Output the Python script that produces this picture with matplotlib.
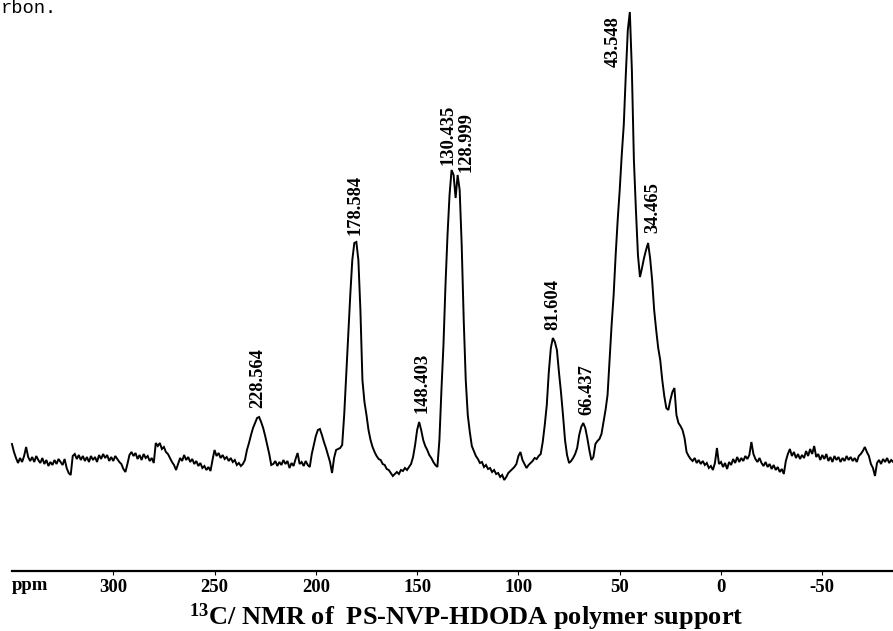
import numpy as np
import matplotlib
matplotlib.use("Agg")
import matplotlib.pyplot as plt

plt.rcParams['font.family'] = ['Liberation Serif', 'DejaVu Serif']
plt.rcParams['font.weight'] = 'bold'
plt.rcParams['mathtext.fontset'] = 'custom'
plt.rcParams['mathtext.rm'] = 'Liberation Serif:bold'
plt.rcParams['mathtext.bf'] = 'Liberation Serif:bold'
plt.rcParams['mathtext.it'] = 'Liberation Serif:bold'

# chemical shift grid (ppm), 1 ppm step, high to low
ppm = np.arange(350, -90, -1)

# intensity, 10 values per row (row = 10 ppm)
intensity_rows = [
    [16, 8, 2, -3, 2, -2, 4, 13, 3, -1],              # 350..341
    [3, -2, 4, 0, -3, 2, -4, 0, -6, -2],              # 340..331
    [-5, 0, -4, 1, -2, -5, 1, -8, -13, -15],          # 330..321
    [4, 6, 1, 5, 0, 4, -1, 3, -2, 4],                 # 320..311
    [0, 3, -2, 5, 1, 6, 2, 5, -1, 3],                 # 310..301
    [-1, 4, 1, -2, -4, -9, -12, -4, 5, 8],            # 300..291
    [4, 7, 1, 5, 0, 6, 2, 4, -1, 2],                  # 290..281
    [-3, 17, 14, 17, 11, 13, 8, 6, 2, -2],            # 280..271
    [-5, -10, -4, 2, -1, 5, 0, 3, -2, 1],             # 270..261
    [-4, -1, -6, -3, -8, -6, -10, -7, -11, 0],        # 260..251
    [10, 4, 7, 2, 5, 1, 3, -1, 2, -2],                # 250..241
    [0, -5, -3, -6, -4, 0, 10, 17, 25, 32],           # 240..231
    [37, 42, 43, 38, 32, 24, 15, 6, -5, -4],          # 230..221
    [-1, -6, -2, -5, 0, -4, -1, -8, -3, -6],          # 220..211
    [1, 7, -4, -2, -6, -1, -5, -7, 6, 15],            # 210..201
    [24, 30, 31, 25, 18, 12, 5, -2, -13, 2],          # 200..191
    [10, 11, 12, 15, 45, 85, 125, 165, 200, 217],     # 190..181
    [218, 200, 150, 80, 58, 45, 30, 20, 13, 8],       # 180..171
    [4, 1, 0, -4, -5, -9, -10, -13, -16, -14],        # 170..161
    [-12, -14, -10, -11, -8, -10, -7, -4, 3, 15],     # 160..151
    [30, 38, 30, 20, 14, 10, 5, 2, -2, -5],           # 150..141
    [-7, 20, 70, 115, 175, 225, 265, 290, 285, 262],  # 140..131
    [285, 270, 215, 140, 80, 45, 28, 14, 9, 4],       # 130..121
    [1, -3, -2, -7, -5, -9, -8, -12, -10, -14],       # 120..111
    [-13, -17, -15, -20, -17, -13, -11, -9, -7, -4],  # 110..101
    [4, 8, 0, -4, -8, -5, -3, -1, 2, 1],              # 100..91
    [4, 6, 18, 35, 55, 88, 112, 122, 118, 110],       # 90..81
    [88, 68, 45, 20, 5, -3, -1, 2, 6, 12],            # 80..71
    [25, 33, 37, 32, 22, 10, 0, 3, 16, 19],           # 70..61
    [21, 26, 38, 50, 65, 100, 135, 165, 205, 240],    # 60..51
    [270, 305, 335, 385, 430, 448, 390, 300, 250, 205],  # 50..41
    [183, 192, 202, 210, 217, 202, 180, 150, 130, 112],  # 40..31
    [100, 80, 64, 52, 50, 60, 68, 72, 45, 37],        # 30..21
    [34, 30, 22, 8, 4, 1, -1, 2, -3, 0],              # 20..11
    [-4, -1, -5, -3, -8, -6, -10, -3, 12, -4],        # 10..1
    [-2, -7, -3, -9, -2, -5, 1, -3, 3, -2],           # 0..-9
    [2, -1, 4, 1, 5, 18, 6, 1, -2, 2],                # -10..-19
    [-3, -6, -2, -7, -4, -9, -5, -10, -7, -12],       # -20..-29
    [-9, -14, -1, 6, 11, 4, 8, 2, 6, 1],              # -30..-39
    [5, 2, 9, 4, 11, 6, 14, 3, 6, 0],                 # -40..-49
    [5, 1, 6, -1, 3, -2, 4, 0, 3, -2],                # -50..-59
    [2, -1, 4, 0, 3, -1, 2, -2, 4, 6],                # -60..-69
    [9, 13, 8, 4, -4, -8, -16, -3, 0, -4],            # -70..-79
    [1, -2, 2, -3, 0, -2, 1, -3, 2, 0],               # -80..-89
]
intensity = np.concatenate([np.array(r, dtype=float) for r in intensity_rows])
n = min(len(ppm), len(intensity))

# peak labels: text, anchor ppm, anchor intensity (bottom of label)
peak_labels = ["228.564", "178.584", "148.403", "130.435", "128.999",
               "81.604", "66.437", "43.548", "34.465"]
label_ppm = [228.5, 180.6, 147.6, 134.7, 125.9, 82.9, 66.1, 53.3, 33.6]
label_int = [52, 225, 47, 295, 288, 130, 45, 393, 227]

tick_values = [300, 250, 200, 150, 100, 50, 0, -50]
tick_labels = ["300", "250", "200", "150", "100", "50", "0", "-50"]

W, H = 893, 631
fig = plt.figure(figsize=(W / 100, H / 100), dpi=100)
fig.patch.set_facecolor('white')

ax = fig.add_axes([0, 1 - 571 / H, 1, 571 / H])
ax.plot(ppm[:n], intensity[:n], color='black', linewidth=1.4, solid_joinstyle='miter')
ax.set_xlim(355.9, -84.9)
ax.set_ylim(-111, 460)

for s in ['left', 'right', 'top']:
    ax.spines[s].set_visible(False)
ax.spines['bottom'].set_linewidth(1.6)
ax.spines['bottom'].set_bounds(-89, 350)
ax.set_yticks([])
ax.set_xticks(tick_values)
ax.set_xticklabels(tick_labels, fontsize=13.5, fontweight='bold')
ax.tick_params(axis='x', direction='out', length=3, width=0.8, pad=2.5)

for txt, xp, yi in zip(peak_labels, label_ppm, label_int):
    ax.text(xp, yi, txt, rotation=90, ha='center', va='bottom',
            fontsize=13.3, fontweight='bold')

fig.text(12 / W, 1 - 590 / H, "ppm", ha='left', va='baseline',
         fontsize=13.5, fontweight='bold')

fig.text(466 / W, 1 - 624.5 / H, r"$^{13}$C/ NMR of  PS-NVP-HDODA polymer support",
         ha='center', va='baseline', fontsize=19, fontweight='bold')

fig.text(0.5 / W, 1.0, "rbon.", ha='left', va='top',
         family=['Liberation Mono', 'DejaVu Sans Mono'], fontweight='normal', fontsize=13.5)

fig.savefig("out.png", dpi=100, facecolor='white')
